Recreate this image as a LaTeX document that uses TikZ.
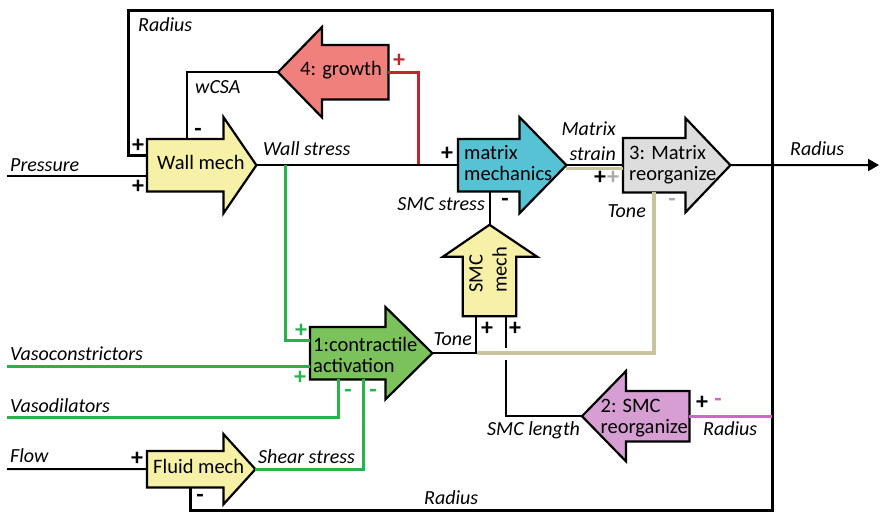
\documentclass[tikz,border=0pt]{standalone}
\usepackage{fontspec}
\setmainfont{Carlito}
\usetikzlibrary{calc,backgrounds,arrows.meta}

\definecolor{yel}{RGB}{246,241,166}
\definecolor{cyn}{RGB}{86,194,211}
\definecolor{grnf}{RGB}{124,194,92}
\definecolor{sal}{RGB}{240,128,124}
\definecolor{gry}{RGB}{221,221,221}
\definecolor{pnk}{RGB}{214,158,210}
\definecolor{grn}{RGB}{40,178,74}
\definecolor{rdl}{RGB}{192,38,45}
\definecolor{tanl}{RGB}{201,196,160}
\definecolor{plk}{RGB}{206,104,196}
\definecolor{sgry}{RGB}{170,170,170}

\newcommand{\blkfont}{\fontsize{20.5}{21}\selectfont}
\newcommand{\lblfont}{\fontsize{20}{25}\selectfont\itshape}
\newcommand{\sgnfont}{\fontsize{24}{24}\selectfont\bfseries}

% block arrows drawn round a body node: name, fill, head extend, tip length
\newcommand{\rightblock}[4]{%
  \draw[blk, fill=#2] (#1.north west) -- (#1.north east) -- ++(0,-#3)
    -- ($(#1.east)+(#4,0)$) coordinate (#1 tip) -- ($(#1.south east)+(0,#3)$)
    -- (#1.south east) -- (#1.south west) -- cycle;}
\newcommand{\leftblock}[4]{%
  \draw[blk, fill=#2] (#1.north east) -- (#1.north west) -- ++(0,-#3)
    -- ($(#1.west)+(-#4,0)$) coordinate (#1 tip) -- ($(#1.south west)+(0,#3)$)
    -- (#1.south west) -- (#1.south east) -- cycle;}

\tikzset{
  body/.style={inner sep=0pt, anchor=north west},
  blk/.style={draw=black, line width=2.2pt},
  blktxt/.style={font=\blkfont, inner sep=0pt},
  lbl/.style={font=\lblfont, inner sep=0pt},
  sgn/.style={font=\sgnfont, inner sep=0pt},
  wire/.style={line width=2pt},
  loopw/.style={line width=3pt},
  gwire/.style={line width=3pt, draw=grn},
  rwire/.style={line width=3pt, draw=rdl},
  twire/.style={line width=3.5pt, draw=tanl},
  pwire/.style={line width=3pt, draw=plk},
}

\begin{document}
\begin{tikzpicture}[x=1pt, y=-1pt]
    \useasboundingbox (0,0) rectangle (880,515);

    %Blocks
    \node[body, minimum width=76pt, minimum height=52pt] (wall) at (147,139) {};
    \node[body, minimum width=61pt, minimum height=52pt] (mmech) at (458,139) {};
    \node[body, minimum width=62pt, minimum height=54pt] (mreorg) at (623,138) {};
    \node[body, minimum width=75pt, minimum height=52pt] (contr) at (310,327) {};
    \node[body, minimum width=76pt, minimum height=36pt] (fluid) at (147,451) {};
    \node[body, minimum width=66pt, minimum height=54pt] (growth) at (322,45) {};
    \node[body, minimum width=63pt, minimum height=50pt] (smcr) at (626,391) {};
    \node[body, anchor=center, rotate=90, minimum width=59pt, minimum height=53pt] (smc) at (489.5,286.5) {};

    \begin{scope}[on background layer]
    \rightblock{wall}{yel}{22}{33}
    \rightblock{mmech}{cyn}{22}{47}
    \rightblock{mreorg}{gry}{20}{45}
    \rightblock{contr}{grnf}{20}{47}
    \rightblock{fluid}{yel}{17}{32}
    \leftblock{growth}{sal}{18}{44}
    \leftblock{smcr}{pnk}{20}{44}
    \draw[blk, fill=yel] (smc.north west) -- (smc.north east) -- ++(-20,0)
        -- ($(smc.east)+(0,-32)$) coordinate (smc tip) -- ($(smc.south east)+(21,0)$)
        -- (smc.south east) -- (smc.south west) -- cycle;
    \end{scope}

    \node[blktxt, anchor=base west] (wallt) at (157,169.5) {Wall mech};
    \node[blktxt, anchor=base west] (fluidt) at (153,473) {Fluid mech};
    \node[blktxt, anchor=base east] (growtht) at (382,75) {4: growth};
    \node[blktxt, align=left, anchor=west] (mmecht) at (464,163) {matrix\\mechanics};
    \node[blktxt, align=left, anchor=west] (mreorgt) at (629,165) {3: Matrix\\reorganize};
    \node[blktxt, align=left, anchor=west] (contrt) at (313,354.5) {1:contractile\\activation};
    \node[blktxt, align=left, anchor=east] (smcrt) at (688,418) {2: SMC\\reorganize};
    \node[blktxt, align=left, anchor=west, rotate=90, font=\fontsize{20.5}{24}\selectfont] (smct) at (488,293) {SMC\\mech};

    %Inputs and outputs
    \coordinate (pin) at (7,176);
    \coordinate (vcin) at (7,366);
    \coordinate (vdin) at (7,417);
    \coordinate (fin) at (7,469);
    \coordinate (out) at (879,165);

    %Lines
    \draw[loopw] ($(wall.north west)+(0,16)$) -- ++(-19,0) |- (772,10) -- (772,510) -| ($(fluid.south west)+(43,0)$);
    \draw[wire] (pin) -- (pin -| wall.west);
    \draw[wire] (growth tip) -| ($(wall.north west)+(40,0)$);
    \draw[rwire] (growth.east) -| ($(wall tip)+(162,0)$);
    \draw[wire] (wall tip) -- (mmech.west);
    \draw[gwire] ($(wall tip)+(29,0)$) |- ($(contr.north west)+(0,13)$);
    \draw[gwire] (vcin) -- (vcin -| contr.west);
    \draw[gwire] (vdin) -| ($(contr.south west)+(28,0)$);
    \draw[gwire] (fluid tip) -| ($(contr.south west)+(53,0)$);
    \draw[wire] (fin) -- (fluid.west);
    \draw[wire] (smc tip) -- (smc tip |- mmech.south);
    \draw[wire] (mmech tip) -- (mreorg.west);
    \draw[twire] ($(mmech tip)+(0,3.5)$) -- ($(mreorg.west)+(0,3.5)$);
    \draw[wire] (contr tip) -| ($(smc.west)+(-13.5,0)$);
    \draw[twire] ($(contr tip)+(45,0)$) -| (mreorg.south);
    \draw[wire] ($(smc.west)+(16.5,0)$) -- ++(0,32) ++(0,12) |- (smcr tip);
    \draw[pwire] (smcr.east) -- (smcr.east -| 772,0);
    \draw[wire, -{Triangle[length=11pt, width=12pt]}] (mreorg tip) -- (out);

    %Labels
    \node[lbl, anchor=base west] (lrad1) at (138,31) {Radius};
    \node[lbl, anchor=base west] (lwcsa) at (195,93) {wCSA};
    \node[lbl, anchor=base west] (lpress) at (10,171) {Pressure};
    \node[lbl, anchor=base west] (lwall) at (263,155) {Wall stress};
    \node[lbl, align=right, anchor=east] (lstrain) at (616,141.5) {Matrix\\strain};
    \node[lbl, anchor=base west] (lrad2) at (790,155) {Radius};
    \node[lbl, anchor=base east] (lsmcs) at (485,210) {SMC stress};
    \node[lbl, anchor=base east] (ltone1) at (646,217) {Tone};
    \node[lbl, anchor=base east] (ltone2) at (472,345) {Tone};
    \node[lbl, anchor=base west] (lsmcl) at (487,435) {SMC length};
    \node[lbl, anchor=base west] (lrad3) at (703,435) {Radius};
    \node[lbl, anchor=base west] (lrad4) at (424,504) {Radius};
    \node[lbl, anchor=base west] (lvc) at (10,360) {Vasoconstrictors};
    \node[lbl, anchor=base west] (lvd) at (10,412) {Vasodilators};
    \node[lbl, anchor=base west] (lflow) at (10,462) {Flow};
    \node[lbl, anchor=base west] (lshear) at (258,463) {Shear stress};

    %Signs
    \node[sgn] (s1) at (138,146) {+};
    \node[sgn] (s2) at (138,187) {+};
    \node[sgn] (s3) at (198,132) {-};
    \node[sgn, text=rdl] (s4) at (399,61) {+};
    \node[sgn] (s5) at (447,154) {+};
    \node[sgn] (s6) at (505,202) {-};
    \node[sgn] (s7) at (600,178) {+};
    \node[sgn, text=sgry] (s8) at (613,178) {+};
    \node[sgn, text=sgry] (s9) at (672,202) {-};
    \node[sgn] (s10) at (487,329) {+};
    \node[sgn] (s11) at (515,329) {+};
    \node[sgn] (s12) at (702,403) {+};
    \node[sgn, text=plk] (s13) at (718,402) {-};
    \node[sgn, text=grn] (s14) at (301,331) {+};
    \node[sgn, text=grn] (s15) at (300,378) {+};
    \node[sgn, text=grn] (s16) at (348,393) {-};
    \node[sgn, text=grn] (s17) at (373,393) {-};
    \node[sgn] (s18) at (137,459) {+};
    \node[sgn] (s19) at (200,498) {-};

\end{tikzpicture}
\end{document}
